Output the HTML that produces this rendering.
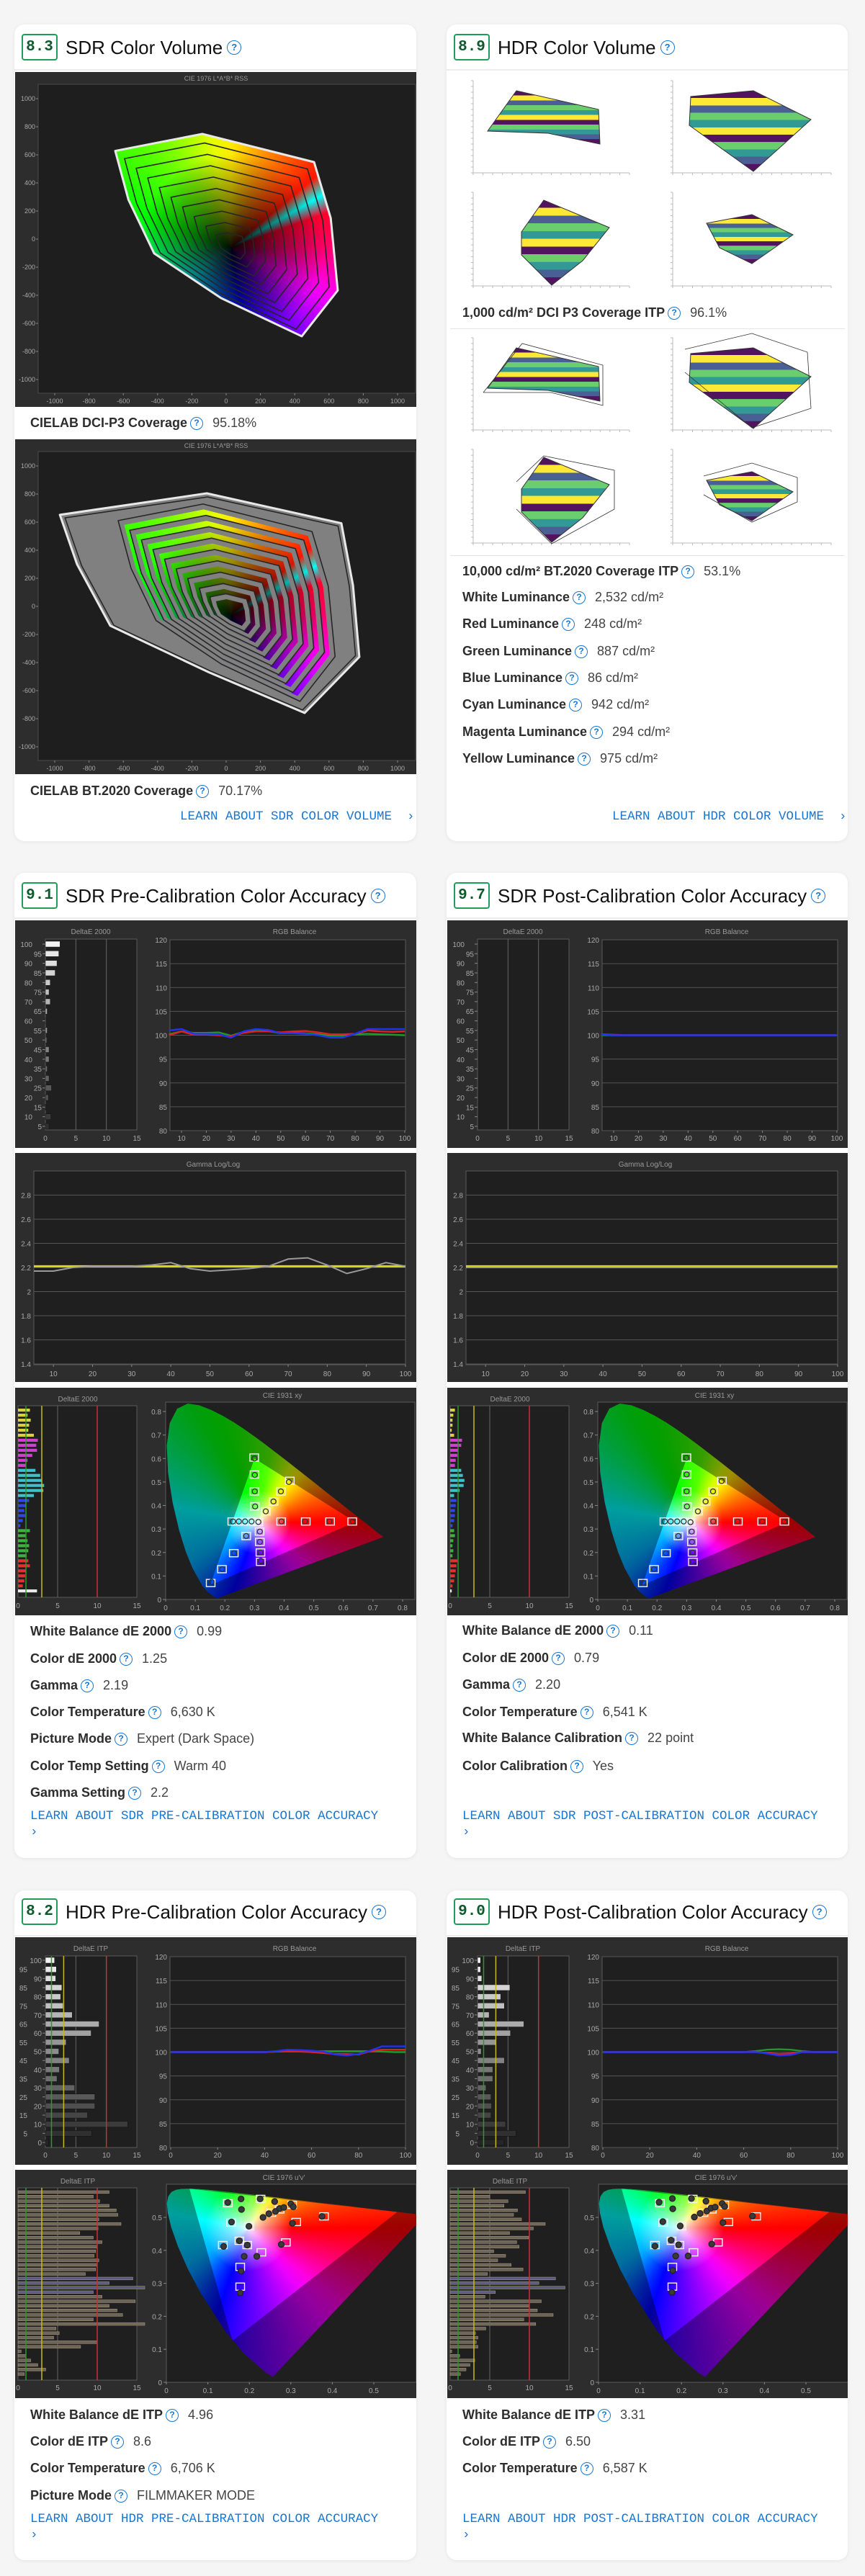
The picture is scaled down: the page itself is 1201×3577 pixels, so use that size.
<!DOCTYPE html>
<html><head><meta charset="utf-8">
<style>
*{box-sizing:border-box;margin:0;padding:0}
body{width:1201px;height:3577px;background:#f5f5f5;font-family:"Liberation Sans",sans-serif;position:relative;overflow:hidden}
.card{position:absolute;background:#fff;border-radius:14px;box-shadow:0 1px 6px rgba(0,0,0,.07)}
.hdr{position:absolute;left:0;top:0;right:0;height:64px;border-bottom:2px solid #ececec}
.badge{position:absolute;left:10px;top:13px;width:50px;height:37px;border:2px solid #1f9d55;border-radius:4px;color:#0d5a2c;font:bold 21px "Liberation Mono",monospace;text-align:center;line-height:33px}
.title{position:absolute;left:71px;top:15px;font-size:26px;color:#111;line-height:34px;white-space:nowrap}
.q{display:inline-block;width:18px;height:18px;border:1.8px solid #1877d2;border-radius:50%;color:#1877d2;font-size:12px;font-weight:bold;line-height:15px;text-align:center;vertical-align:middle;margin:0 8px 0 4px}
.title .q{width:20px;height:20px;line-height:17px;font-size:13px;margin-left:6px;position:relative;top:-2px}
.row{position:absolute;height:24px;line-height:24px;font-size:18px;color:#444;white-space:nowrap}
.row b{color:#2d2d2d}
.learn{position:absolute;font:17.5px "Liberation Mono",monospace;color:#1877d2;white-space:nowrap;line-height:22px}
svg{position:absolute;display:block}
</style></head><body>

<!-- Card 1 -->
<div class="card" style="left:20px;top:34px;width:558px;height:1134px">
 <div class="hdr"><div class="badge">8.3</div><div class="title">SDR Color Volume<span class="q">?</span></div></div>
</div>
<svg id="vol1" style="left:21px;top:100px" width="557" height="465"></svg>
<div class="row" style="left:42px;top:575px"><b>CIELAB DCI-P3 Coverage</b><span class="q">?</span> 95.18%</div>
<svg id="vol2" style="left:21px;top:610px" width="557" height="465"></svg>
<div class="row" style="left:42px;top:1086px"><b>CIELAB BT.2020 Coverage</b><span class="q">?</span> 70.17%</div>
<div class="learn" style="left:250px;top:1123px;width:302px;text-align:right">LEARN ABOUT SDR COLOR VOLUME &nbsp;›</div>

<!-- Card 2 -->
<div class="card" style="left:620px;top:34px;width:557px;height:1134px">
 <div class="hdr"><div class="badge">8.9</div><div class="title">HDR Color Volume<span class="q">?</span></div></div>
</div>
<svg id="hv1" style="left:621px;top:100px" width="556" height="313"></svg>
<div style="position:absolute;left:625px;top:456px;width:548px;height:1px;background:#e4e4e4"></div>
<div class="row" style="left:642px;top:422px"><b>1,000 cd/m² DCI P3 Coverage ITP</b><span class="q">?</span> 96.1%</div>
<svg id="hv2" style="left:621px;top:457px" width="556" height="313"></svg>
<div style="position:absolute;left:625px;top:771px;width:548px;height:1px;background:#e4e4e4"></div>
<div class="row" style="left:642px;top:781px"><b>10,000 cd/m² BT.2020 Coverage ITP</b><span class="q">?</span> 53.1%</div>
<div class="row" style="left:642px;top:817px"><b>White Luminance</b><span class="q">?</span> 2,532 cd/m²</div>
<div class="row" style="left:642px;top:854px"><b>Red Luminance</b><span class="q">?</span> 248 cd/m²</div>
<div class="row" style="left:642px;top:892px"><b>Green Luminance</b><span class="q">?</span> 887 cd/m²</div>
<div class="row" style="left:642px;top:929px"><b>Blue Luminance</b><span class="q">?</span> 86 cd/m²</div>
<div class="row" style="left:642px;top:966px"><b>Cyan Luminance</b><span class="q">?</span> 942 cd/m²</div>
<div class="row" style="left:642px;top:1004px"><b>Magenta Luminance</b><span class="q">?</span> 294 cd/m²</div>
<div class="row" style="left:642px;top:1041px"><b>Yellow Luminance</b><span class="q">?</span> 975 cd/m²</div>
<div class="learn" style="left:850px;top:1123px;width:302px;text-align:right">LEARN ABOUT HDR COLOR VOLUME &nbsp;›</div>

<!-- Card 3 -->
<div class="card" style="left:20px;top:1212px;width:558px;height:1368px">
 <div class="hdr"><div class="badge">9.1</div><div class="title">SDR Pre-Calibration Color Accuracy<span class="q">?</span></div></div>
</div>
<svg id="a1" style="left:21px;top:1278px" width="557" height="316"></svg>
<svg id="g1" style="left:21px;top:1601px" width="557" height="318"></svg>
<svg id="c1" style="left:21px;top:1927px" width="557" height="316"></svg>
<div class="row" style="left:42px;top:2253px"><b>White Balance dE 2000</b><span class="q">?</span> 0.99</div>
<div class="row" style="left:42px;top:2291px"><b>Color dE 2000</b><span class="q">?</span> 1.25</div>
<div class="row" style="left:42px;top:2328px"><b>Gamma</b><span class="q">?</span> 2.19</div>
<div class="row" style="left:42px;top:2365px"><b>Color Temperature</b><span class="q">?</span> 6,630 K</div>
<div class="row" style="left:42px;top:2402px"><b>Picture Mode</b><span class="q">?</span> Expert (Dark Space)</div>
<div class="row" style="left:42px;top:2440px"><b>Color Temp Setting</b><span class="q">?</span> Warm 40</div>
<div class="row" style="left:42px;top:2477px"><b>Gamma Setting</b><span class="q">?</span> 2.2</div>
<div class="learn" style="left:42px;top:2511px">LEARN ABOUT SDR PRE-CALIBRATION COLOR ACCURACY<br>›</div>

<!-- Card 4 -->
<div class="card" style="left:620px;top:1212px;width:557px;height:1368px">
 <div class="hdr"><div class="badge">9.7</div><div class="title">SDR Post-Calibration Color Accuracy<span class="q">?</span></div></div>
</div>
<svg id="a2" style="left:621px;top:1278px" width="556" height="316"></svg>
<svg id="g2" style="left:621px;top:1601px" width="556" height="318"></svg>
<svg id="c2" style="left:621px;top:1927px" width="556" height="316"></svg>
<div class="row" style="left:642px;top:2252px"><b>White Balance dE 2000</b><span class="q">?</span> 0.11</div>
<div class="row" style="left:642px;top:2290px"><b>Color dE 2000</b><span class="q">?</span> 0.79</div>
<div class="row" style="left:642px;top:2327px"><b>Gamma</b><span class="q">?</span> 2.20</div>
<div class="row" style="left:642px;top:2365px"><b>Color Temperature</b><span class="q">?</span> 6,541 K</div>
<div class="row" style="left:642px;top:2401px"><b>White Balance Calibration</b><span class="q">?</span> 22 point</div>
<div class="row" style="left:642px;top:2440px"><b>Color Calibration</b><span class="q">?</span> Yes</div>
<div class="learn" style="left:642px;top:2511px">LEARN ABOUT SDR POST-CALIBRATION COLOR ACCURACY<br>›</div>

<!-- Card 5 -->
<div class="card" style="left:20px;top:2625px;width:558px;height:930px">
 <div class="hdr"><div class="badge" style="top:11px">8.2</div><div class="title" style="top:13px">HDR Pre-Calibration Color Accuracy<span class="q">?</span></div></div>
</div>
<svg id="a3" style="left:21px;top:2690px" width="557" height="316"></svg>
<svg id="c3" style="left:21px;top:3013px" width="557" height="317"></svg>
<div class="row" style="left:42px;top:3341px"><b>White Balance dE ITP</b><span class="q">?</span> 4.96</div>
<div class="row" style="left:42px;top:3378px"><b>Color dE ITP</b><span class="q">?</span> 8.6</div>
<div class="row" style="left:42px;top:3415px"><b>Color Temperature</b><span class="q">?</span> 6,706 K</div>
<div class="row" style="left:42px;top:3453px"><b>Picture Mode</b><span class="q">?</span> FILMMAKER MODE</div>
<div class="learn" style="left:42px;top:3487px">LEARN ABOUT HDR PRE-CALIBRATION COLOR ACCURACY<br>›</div>

<!-- Card 6 -->
<div class="card" style="left:620px;top:2625px;width:557px;height:930px">
 <div class="hdr"><div class="badge" style="top:11px">9.0</div><div class="title" style="top:13px">HDR Post-Calibration Color Accuracy<span class="q">?</span></div></div>
</div>
<svg id="a4" style="left:621px;top:2690px" width="556" height="316"></svg>
<svg id="c4" style="left:621px;top:3013px" width="556" height="317"></svg>
<div class="row" style="left:642px;top:3341px"><b>White Balance dE ITP</b><span class="q">?</span> 3.31</div>
<div class="row" style="left:642px;top:3378px"><b>Color dE ITP</b><span class="q">?</span> 6.50</div>
<div class="row" style="left:642px;top:3415px"><b>Color Temperature</b><span class="q">?</span> 6,587 K</div>
<div class="learn" style="left:642px;top:3487px">LEARN ABOUT HDR POST-CALIBRATION COLOR ACCURACY<br>›</div>

<script>
// ---------- DATA ----------
const volTicks = [-1000,-800,-600,-400,-200,0,200,400,600,800,1000];
const p3A = [-647,-139,513,610,651,441,-30,-420,-570];
const p3B = [628,749,548,150,-365,-692,-420,-102,280];
const bt2020A = [-970,-113,672,740,777,458,-100,-676,-870];
const bt2020B = [652,805,592,150,-360,-759,-470,-138,300];
const ringScales = [1,0.92,0.82,0.72,0.62,0.52,0.42,0.32,0.22,0.13];
const volCenterA = 30, volCenterB = -60;

const sdrDeRows = [100,95,90,85,80,75,70,65,60,55,50,45,40,35,30,25,20,15,10,5];
const sdrPreDe = [2.4,2.2,1.9,1.6,0.8,0.6,0.8,0.3,0.1,0.3,0.2,0.6,0.6,0.3,0.6,1.0,0.5,0.1,0.9,0.6];
const sdrPostDe = [0,0,0,0,0,0,0,0,0,0,0,0,0,0,0,0,0,0,0,0];
const sdrRgbX = [5,10,15,20,25,30,35,40,45,50,55,60,65,70,75,80,85,90,95,100];
const sdrRgbTicks = [10,20,30,40,50,60,70,80,90,100];
const sdrPreR = [100,100.8,100.1,100.1,100,99.8,100.5,100.8,100.8,100.6,100.8,100.9,100.6,100.2,100.2,100.3,101,100.8,100.7,100.8];
const sdrPreG = [100.2,100.8,100.5,100.5,100.6,99.9,100.7,100.9,100.9,100.4,100.5,100.4,100.2,99.9,99.9,100.2,100.3,100.2,100.1,100];
const sdrPreB = [101,101.3,100.3,100.3,100.2,99.5,100.8,101.3,101.1,100.4,100.4,100.3,100,99.5,99.5,100.3,101.3,101.3,101.3,101.3];
const sdrPostR = [100.2,100.1,100,100,100,100,100,100,100,100,100,100,100,100,100,100,100,100,100,100];
const sdrPostG = [100,100,100,100,100,100,100,100,100,100,100,100,100,100,100,100,100,100,100,100];
const sdrPostB = [100.1,100,100,100,100,100,100,100,100,100,100,100,100,100,100,100,100,100,100,100];

const gammaX = [5,10,15,20,25,30,35,40,45,50,55,60,65,70,75,80,85,90,95,100];
const gammaTicks = [10,20,30,40,50,60,70,80,90,100];
const gammaYTicks = [1.4,1.6,1.8,2,2.2,2.4,2.6,2.8];
const gammaPre = [2.17,2.17,2.2,2.21,2.21,2.21,2.22,2.24,2.19,2.17,2.18,2.19,2.21,2.27,2.28,2.22,2.15,2.19,2.24,2.21];
const gammaPreTarget = [2.21,2.21,2.21,2.21,2.21,2.21,2.21,2.21,2.21,2.21,2.21,2.21,2.21,2.21,2.21,2.21,2.21,2.21,2.21,2.21];
const gammaPost = [2.2,2.2,2.2,2.2,2.2,2.2,2.2,2.2,2.2,2.2,2.2,2.2,2.2,2.2,2.2,2.2,2.2,2.2,2.2,2.2];
const gammaPostTarget = [2.21,2.21,2.21,2.21,2.21,2.21,2.21,2.21,2.21,2.21,2.21,2.21,2.21,2.21,2.21,2.21,2.21,2.21,2.21,2.21];

const hdrDeRows = [100,95,90,85,80,75,70,65,60,55,50,45,40,35,30,25,20,15,10,5,0];
const hdrPreDe = [1.5,1.8,1.7,2.7,2.5,2.9,4.4,8.8,7.5,3.4,2.2,3.9,2.3,1.9,4.8,8.1,8.1,6.9,13.5,7.6,0.5];
const hdrPostDe = [0.5,0.5,0.7,5.3,3.8,4.4,1.9,7.6,5.4,3.1,0.6,4.4,2.5,2.5,1.4,2.2,2.3,2.2,4.6,6.3,4.3];
const hdrRgbX = [0,5,10,15,20,25,30,35,40,45,50,55,60,65,70,75,80,85,90,95,100];
const hdrRgbTicks = [0,20,40,60,80,100];
const hdrPreR = [100,100,100,100,100,100,100,100,100,100.1,100.2,100.1,100,99.8,99.6,99.6,99.5,100.2,100.5,100.5,100.5];
const hdrPreG = [100,100,100,100,100,100,100,100,100,100.1,100.2,100.2,100.2,100.2,100.2,100.2,100.2,100.2,100.1,100,100];
const hdrPreB = [100,100,100,100,100,100,100,100,100,100.2,100.5,100.4,100.3,100.1,99.5,99.3,99.6,100.3,101.2,101.2,101.2];
const hdrPostR = [100,100,100,100,100,100,100,100,100,100,100,100,100,100,99.8,99.6,99.7,100,100,100,100];
const hdrPostG = [100,100,100,100,100,100,100,100,100,100,100,100,100,100.2,100.5,100.6,100.5,100.2,100,100,100];
const hdrPostB = [100,100,100,100,100,100,100,100,100,100,100,100,100,100,99.7,99.3,99.4,100,100,100,100];

const cieDeTicks = [0,5,10,15];
const sdrPreCieDe = [1.5,1.2,1.6,1.4,1.3,2.0, 2.5,2.3,2.4,1.8,1.2,1.0, 2.2,2.8,3.0,3.3,3.2,2.0, 1.4,1.0,0.8,0.9,0.6,0.3, 1.5,1.0,1.2,1.4,1.3,1.1, 1.3,1.5,1.0,0.9,0.8,0.6, 2.4];
const sdrPostCieDe = [0.6,0.4,0.3,0.3,0.2,0.5, 1.5,1.4,1.0,0.9,0.7,0.6, 1.4,1.6,1.8,1.7,1.2,0.5, 0.8,0.7,0.6,0.6,0.5,0.3, 0.5,0.6,0.4,0.3,0.4,0.3, 0.9,0.8,0.7,0.6,0.5,0.3, 0.2];
const hdrPreCieDe = [11.5,9.5,10.3,11.5,12.4,12.6,10.2,13,10.1,7.8,9.5,10.6,10,9.8,9.6,10.2,10,9.8,8.5,14.5,11.5,16,9.5,10.6,14.8,11.5,12.5,13.2,9.5,16,4.8,5.2,4.5,10,7.9,0.4,1,1.6,2.5,3.5,0.8];
const hdrPostCieDe = [9.5,5,7.3,6.8,8.5,8,9,12,10.5,7.5,9.9,8.4,8.7,5.5,7,6,7.7,9.2,4.7,13.3,11.2,14.5,5.7,4.4,11.5,10,11,13,9.3,10.8,4.5,3.2,3.5,3.3,3.5,0.2,1.2,3.1,2.5,2,1.3];

const locusX = [0.1741,0.1666,0.1440,0.1241,0.0913,0.0687,0.0454,0.0235,0.0082,0.0039,0.0139,0.0389,0.0743,0.1142,0.1547,0.1929,0.2296,0.2658,0.3016,0.3373,0.3731,0.4087,0.4441,0.4788,0.5125,0.5448,0.5752,0.6029,0.6270,0.6482,0.6658,0.6915,0.7347];
const locusY = [0.0050,0.0089,0.0297,0.0578,0.1327,0.2007,0.2950,0.4127,0.5384,0.6548,0.7502,0.8120,0.8338,0.8262,0.8059,0.7816,0.7543,0.7243,0.6923,0.6589,0.6245,0.5896,0.5547,0.5202,0.4866,0.4544,0.4242,0.3965,0.3725,0.3514,0.3340,0.3083,0.2653];
const rec709X = [0.64,0.30,0.15], rec709Y = [0.33,0.60,0.06];
const bt2020U = [0.5566,0.0556,0.1593], bt2020V = [0.5165,0.5868,0.1258];
const xyTicksX = [0,0.1,0.2,0.3,0.4,0.5,0.6,0.7,0.8];
const xyTicksY = [0,0.1,0.2,0.3,0.4,0.5,0.6,0.7,0.8];
const uvTicksX = [0,0.1,0.2,0.3,0.4,0.5];
const uvTicksY = [0,0.1,0.2,0.3,0.4,0.5];
const sdrTargetX = [0.299,0.300,0.300,0.301,0.419,0.389,0.364,0.338,0.390,0.473,0.555,0.630,0.225,0.246,0.268,0.290,0.313,0.317,0.318,0.320,0.321,0.272,0.230,0.190,0.152];
const sdrTargetY = [0.604,0.532,0.460,0.396,0.505,0.460,0.417,0.375,0.332,0.332,0.332,0.332,0.332,0.332,0.332,0.332,0.329,0.289,0.245,0.200,0.160,0.270,0.197,0.129,0.070];
const sdrPreMeasX = [0.300,0.301,0.301,0.302,0.416,0.389,0.364,0.338,0.391,0.470,0.553,0.632,0.227,0.247,0.268,0.290,0.313,0.318,0.318,0.320,0.321,0.272,0.231,0.191,0.155];
const sdrPreMeasY = [0.600,0.530,0.460,0.396,0.500,0.460,0.417,0.375,0.332,0.332,0.332,0.332,0.332,0.332,0.332,0.332,0.330,0.289,0.245,0.200,0.165,0.270,0.197,0.129,0.075];
const sdrPostMeasX = [0.299,0.300,0.300,0.301,0.418,0.389,0.364,0.338,0.390,0.472,0.555,0.630,0.226,0.246,0.268,0.290,0.313,0.317,0.318,0.320,0.321,0.272,0.230,0.190,0.153];
const sdrPostMeasY = [0.603,0.532,0.460,0.396,0.504,0.460,0.417,0.375,0.332,0.332,0.332,0.332,0.332,0.332,0.332,0.332,0.329,0.289,0.245,0.200,0.161,0.270,0.197,0.129,0.071];
const hdrTargetU = [0.148,0.227,0.303,0.156,0.200,0.313,0.380,0.136,0.176,0.195,0.288,0.229,0.178,0.178,0.253,0.273];
const hdrTargetV = [0.543,0.556,0.538,0.484,0.473,0.486,0.503,0.416,0.429,0.416,0.424,0.394,0.350,0.290,0.514,0.524];
const hdrPreMeasU = [0.148,0.180,0.181,0.157,0.199,0.176,0.195,0.138,0.1875,0.218,0.180,0.178,0.226,0.261,0.233,0.247,0.263,0.273,0.283,0.300,0.306,0.304,0.277,0.375];
const hdrPreMeasV = [0.545,0.556,0.524,0.486,0.473,0.429,0.416,0.412,0.382,0.382,0.337,0.271,0.556,0.548,0.500,0.511,0.518,0.527,0.530,0.541,0.532,0.482,0.418,0.503];
const hdrPostMeasU = [0.146,0.178,0.179,0.155,0.197,0.175,0.193,0.136,0.186,0.216,0.179,0.177,0.224,0.259,0.231,0.245,0.261,0.271,0.281,0.298,0.304,0.300,0.273,0.371];
const hdrPostMeasV = [0.546,0.557,0.526,0.487,0.474,0.431,0.417,0.413,0.383,0.383,0.339,0.273,0.557,0.549,0.501,0.512,0.519,0.528,0.531,0.542,0.533,0.484,0.419,0.504];

// ---------- HELPERS ----------
const NS='http://www.w3.org/2000/svg';
function E(p,t,a,txt){const e=document.createElementNS(NS,t);for(const k in a)e.setAttribute(k,a[k]);if(txt!==undefined)e.textContent=txt;p.appendChild(e);return e;}
function T(p,x,y,s,anchor,size,fill){return E(p,'text',{x:x,y:y,'text-anchor':anchor||'middle','font-size':size||10,fill:fill||'#a9a9a9','font-family':'Liberation Sans, sans-serif'},s);}
function interp(tbl,a){a=((a%360)+360)%360;for(let i=0;i<tbl.length-1;i++){const p=tbl[i],q=tbl[i+1];if(a>=p[0]&&a<=q[0]){const t=(a-p[0])/(q[0]-p[0]);return p[1]+t*(q[1]-p[1]);}}return tbl[0][1];}
// gradient fill clipped to polygon (CSS conic-gradient in foreignObject)
function hueFill(svg,W,H,cx,cy,pts,tbl,overlay){
  const fo=E(svg,'foreignObject',{x:0,y:0,width:W,height:H});
  const d=document.createElement('div');
  const stops=[];
  for(let th=0;th<=360;th+=10){stops.push('hsl('+interp(tbl,90-th).toFixed(1)+',100%,50%) '+th+'deg');}
  d.style.cssText='width:'+W+'px;height:'+H+'px;background:'+overlay+',conic-gradient(from 0deg at '+cx+'px '+cy+'px,'+stops.join(',')+');clip-path:polygon('+pts.map(p=>p[0].toFixed(1)+'px '+p[1].toFixed(1)+'px').join(',')+')';
  fo.appendChild(d);
  return fo;
}
const labHue=[[0,335],[20,350],[40,5],[65,28],[90,55],[125,95],[160,120],[190,150],[215,180],[245,205],[275,235],[305,265],[330,295],[360,335]];
const cieHue=[[0,0],[25,25],[50,55],[80,100],[120,125],[170,180],[215,200],[240,230],[275,265],[315,300],[360,360]];

// ---------- VOLUME CHARTS ----------
function buildVolume(id,withBt){
  const svg=document.getElementById(id),W=557,H=465;
  const X=a=>293+a*47.6/200, Y=b=>232-b*39/200;
  const bg=E(svg,'rect',{x:0,y:0,width:W,height:H,fill:'#2d2d2d'});
  
  const pl=E(svg,'rect',{x:32,y:17,width:524,height:429,fill:'#1e1e1e',stroke:'#4a4a4a'});
  
  const tt=T(svg,279,12,'CIE 1976 L*A*B* RSS','middle',9,'#999');
  
  volTicks.forEach(v=>{
    const ty=T(svg,28,Y(v)+3,String(v),'end',9);
    
    const tx=T(svg,X(v),460,String(v),'middle',9);
    
    const m1=E(svg,'line',{x1:29,x2:32,y1:Y(v),y2:Y(v),stroke:'#888'});
    
    const m2=E(svg,'line',{x1:X(v),x2:X(v),y1:446,y2:449,stroke:'#888'});
    
  });
  const cx=X(volCenterA),cy=Y(volCenterB);
  const ringPts=(A,B,s)=>A.map((a,i)=>[X(volCenterA+s*(a-volCenterA)),Y(volCenterB+s*(B[i]-volCenterB))]);
  const ring=(A,B,s)=>ringPts(A,B,s).map(p=>p.join(',')).join(' ');
  const overlay='radial-gradient(circle at '+cx+'px '+cy+'px, rgba(0,0,0,0.95) 0px, rgba(0,0,0,0.6) 45px, rgba(0,0,0,0) 130px)';
  if(!withBt){
    const f=hueFill(svg,W,H,cx,cy,ringPts(p3A,p3B,1),labHue,overlay);
    
    const o=E(svg,'polygon',{points:ring(p3A,p3B,1),fill:'none',stroke:'#e8e8e8','stroke-width':3,'stroke-linejoin':'round'});
    
    ringScales.slice(1).forEach(s=>{
      const r=E(svg,'polygon',{points:ring(p3A,p3B,s),fill:'none',stroke:'#262626','stroke-width':1.6,'stroke-linejoin':'round'});
      
    });
  } else {
    const g=E(svg,'polygon',{points:ring(bt2020A,bt2020B,1),fill:'#808080',stroke:'#e8e8e8','stroke-width':3,'stroke-linejoin':'round'});
    
    const f=hueFill(svg,W,H,cx,cy,ringPts(p3A,p3B,0.96),labHue,overlay);
    
    ringScales.slice(1).forEach(s=>{
      const band=E(svg,'polygon',{points:ring(p3A,p3B,s+0.03),fill:'none',stroke:'#808080','stroke-width':7,'stroke-linejoin':'round'});
      
      const r=E(svg,'polygon',{points:ring(p3A,p3B,s+0.055),fill:'none',stroke:'#262626','stroke-width':1.6,'stroke-linejoin':'round'});
      
    });
    const ob=E(svg,'polygon',{points:ring(bt2020A,bt2020B,0.97),fill:'none',stroke:'#262626','stroke-width':1.6,'stroke-linejoin':'round'});
    
  }
}
buildVolume('vol1',false);
buildVolume('vol2',true);

// ---------- HDR VOLUME RENDERS (illustrations) ----------
function hdrRenders(id,wire){
  const svg=document.getElementById(id);
  const defs=E(svg,'defs',{});
  const gr=E(defs,'linearGradient',{id:id+'v',x1:0,y1:0,x2:0,y2:1});
  const cols=['#440154','#fde725','#3b528b','#5ec962','#21918c','#fde725','#440154','#5ec962','#21918c','#3b528b','#440154'];
  cols.forEach((c,i)=>{E(gr,'stop',{offset:i/cols.length,'stop-color':c});E(gr,'stop',{offset:(i+1)/cols.length-0.001,'stop-color':c});});
  const bg=E(svg,'rect',{x:0,y:0,width:556,height:313,fill:'#fff'});
  
  const panels=[[36,12,217,128],[313,12,220,128],[36,167,217,130],[313,167,220,130]];
  panels.forEach((p,k)=>{
    const ax=E(svg,'polyline',{points:p[0]+','+p[1]+' '+p[0]+','+(p[1]+p[3])+' '+(p[0]+p[2])+','+(p[1]+p[3]),fill:'none',stroke:'#bbb','stroke-width':1});
    
    for(let i=0;i<=16;i++){
      const t=E(svg,'line',{x1:p[0]-3,x2:p[0],y1:p[1]+i*p[3]/16,y2:p[1]+i*p[3]/16,stroke:'#bbb'});
      
      const t2=E(svg,'line',{x1:p[0]+i*p[2]/16,x2:p[0]+i*p[2]/16,y1:p[1]+p[3],y2:p[1]+p[3]+3,stroke:'#bbb'});
      
    }
  });
  const shapes=[
    '56,82 96,26 210,52 212,100 140,85',
    '338,34 425,26 505,66 425,138 336,74',
    '103,222 134,178 225,216 188,262 145,296 103,254',
    '360,210 423,198 480,226 423,266 378,244'];
  shapes.forEach(s=>{
    const sh=E(svg,'polygon',{points:s,fill:'url(#'+id+'v)',stroke:'#222','stroke-width':1,opacity:0.92});
    
  });
  if(wire){
    const w=['50,88 104,20 216,50 216,106 144,88 50,88','330,28 423,6 500,32 505,110 423,137 330,60','96,212 134,176 232,196 232,250 145,298 96,250','356,204 423,186 486,206 486,240 423,268 356,230'];
    w.forEach(s=>{
      const wl=E(svg,'polyline',{points:s,fill:'none',stroke:'#333','stroke-width':0.8});
      
    });
  }
}
hdrRenders('hv1',false);
hdrRenders('hv2',true);

// ---------- CHART A: DeltaE + RGB balance ----------
function buildA(id,o){
  const svg=document.getElementById(id),W=557,H=316;
  const bg=E(svg,'rect',{x:0,y:0,width:W,height:H,fill:'#2d2d2d'});
  
  const dx=v=>42+v*8.47, top=26, bot=o.hdr?292:291;
  const dp=E(svg,'rect',{x:42,y:top,width:127,height:bot-top,fill:'#1f1f1f',stroke:'#5a5a5a'});
  
  [5,10].forEach(v=>{const l=E(svg,'line',{x1:dx(v),x2:dx(v),y1:top,y2:bot,stroke:'#666'});});
  const t1=T(svg,105,19,o.deTitle,'middle',10,'#999');
  
  const n=o.rows.length, r0=o.hdr?32:33, r1=o.hdr?285:286, st=(r1-r0)/(n-1);
  o.rows.forEach((rv,i)=>{
    const y=r0+i*st;
    const right=o.hdr?((rv%10===0)?37:17):((rv%10===0)?24:37);
    const lb=T(svg,right,y+4,String(rv),'end',10);
    
    const tk=E(svg,'line',{x1:38,x2:42,y1:y,y2:y,stroke:'#888'});
    
    const v=o.de[i];
    const l=Math.round(15+rv*0.8);
    const b=E(svg,'rect',{x:42,y:y-4,width:Math.max(0,dx(v)-42),height:8,fill:'hsl(0,0%,'+l+'%)',stroke:'#111','stroke-width':0.5});
    
  });
  if(o.hdr){
    [[1,'#2a9a2a'],[3,'#c8b820'],[10,'#c8302a']].forEach(q=>{const l=E(svg,'line',{x1:dx(q[0]),x2:dx(q[0]),y1:top,y2:bot,stroke:q[1],'stroke-width':1.5});});
  }
  cieDeTicks.forEach(v=>{const t=T(svg,dx(v),306,String(v),'middle',10);});
  const xs=v=>o.hdr?(216+v*3.26):(231+(v-10)*3.444);
  const ys=v=>27+(120-v)*(292-27)/40;
  const rp=E(svg,'rect',{x:215,y:27,width:327,height:265,fill:'#1f1f1f',stroke:'#5a5a5a'});
  
  const t2=T(svg,388,19,'RGB Balance','middle',10,'#999');
  
  for(let v=80;v<=120;v+=5){
    const g=E(svg,'line',{x1:215,x2:542,y1:ys(v),y2:ys(v),stroke:'#555'});
    
    const l=T(svg,211,ys(v)+4,String(v),'end',10);
    
  }
  o.ticks.forEach(v=>{
    const l=T(svg,xs(v),306,String(v),'middle',10);
    
    const m=E(svg,'line',{x1:xs(v),x2:xs(v),y1:292,y2:295,stroke:'#888'});
    
  });
  [[o.G,'#1f9a2a'],[o.R,'#e02020'],[o.B,'#2233ee']].forEach(s=>{
    const pl=E(svg,'polyline',{points:o.x.map((v,i)=>xs(v)+','+ys(s[0][i])).join(' '),fill:'none',stroke:s[1],'stroke-width':2.4,'stroke-linejoin':'round'});
    
  });
}
buildA('a1',{hdr:false,deTitle:'DeltaE 2000',rows:sdrDeRows,de:sdrPreDe,x:sdrRgbX,ticks:sdrRgbTicks,R:sdrPreR,G:sdrPreG,B:sdrPreB});
buildA('a2',{hdr:false,deTitle:'DeltaE 2000',rows:sdrDeRows,de:sdrPostDe,x:sdrRgbX,ticks:sdrRgbTicks,R:sdrPostR,G:sdrPostG,B:sdrPostB});
buildA('a3',{hdr:true,deTitle:'DeltaE ITP',rows:hdrDeRows,de:hdrPreDe,x:hdrRgbX,ticks:hdrRgbTicks,R:hdrPreR,G:hdrPreG,B:hdrPreB});
buildA('a4',{hdr:true,deTitle:'DeltaE ITP',rows:hdrDeRows,de:hdrPostDe,x:hdrRgbX,ticks:hdrRgbTicks,R:hdrPostR,G:hdrPostG,B:hdrPostB});

// ---------- GAMMA ----------
function buildGamma(id,meas,target){
  const svg=document.getElementById(id),W=557,H=318;
  const xs=v=>26+(v-5)*516/95, ys=g=>159-(g-2.2)/0.2*33.5;
  const bg=E(svg,'rect',{x:0,y:0,width:W,height:H,fill:'#2d2d2d'});
  
  const p=E(svg,'rect',{x:26,y:25,width:516,height:269,fill:'#1f1f1f',stroke:'#5a5a5a'});
  
  const t=T(svg,275,19,'Gamma Log/Log','middle',10,'#999');
  
  gammaYTicks.forEach(g=>{
    const l=E(svg,'line',{x1:26,x2:542,y1:ys(g),y2:ys(g),stroke:'#555'});
    
    const tx=T(svg,22,ys(g)+4,String(g),'end',10);
    
  });
  gammaTicks.forEach(v=>{
    const tx=T(svg,xs(v),310,String(v),'middle',10);
    
    const m=E(svg,'line',{x1:xs(v),x2:xs(v),y1:294,y2:297,stroke:'#888'});
    
  });
  const y=E(svg,'polyline',{points:gammaX.map((v,i)=>xs(v)+','+ys(target[i])).join(' '),fill:'none',stroke:'#d8d820','stroke-width':3});
  
  const m=E(svg,'polyline',{points:gammaX.map((v,i)=>xs(v)+','+ys(meas[i])).join(' '),fill:'none',stroke:'#9a9a9a','stroke-width':2});
  
}
buildGamma('g1',gammaPre,gammaPreTarget);
buildGamma('g2',gammaPost,gammaPostTarget);

// ---------- CIE ----------
function buildCie(id,o){
  const svg=document.getElementById(id),W=557,H=317;
  const bg=E(svg,'rect',{x:0,y:0,width:W,height:H,fill:'#2d2d2d'});
  
  const dx=v=>4+v*11, top=25, bot=o.uv?292:291;
  const dp=E(svg,'rect',{x:4,y:top,width:165,height:bot-top,fill:'#1f1f1f',stroke:'#5a5a5a'});
  
  [5,10].forEach(v=>{const l=E(svg,'line',{x1:dx(v),x2:dx(v),y1:top,y2:bot,stroke:'#666'});});
  const t1=T(svg,87,19,o.deTitle,'middle',10,'#999');
  
  const groupCols=['#d8d040','#d040d0','#40c0c8','#3048e0','#40b040','#e03030','#e8e8e8'];
  const n=o.de.length, st=(bot-top-8)/n;
  o.de.forEach((v,i)=>{
    const y=top+4+i*st;
    const col=o.uv?(i>=19&&i<=22?'#5a5a8a':'#6c6458'):groupCols[Math.min(6,Math.floor(i/6))];
    const b=E(svg,'rect',{x:4,y:y,width:Math.max(0,dx(v)-4),height:Math.max(2,st*0.6),fill:col,stroke:o.uv?'#b0a080':'none','stroke-width':0.5});
    
  });
  [[1,'#2a9a2a'],[3,'#c8b820'],[10,'#c8302a']].forEach(q=>{const l=E(svg,'line',{x1:dx(q[0]),x2:dx(q[0]),y1:top,y2:bot,stroke:q[1],'stroke-width':1.5});});
  cieDeTicks.forEach(v=>{const t=T(svg,dx(v),306,String(v),'middle',10);});
  let X,Y,locus,tri,ticksX,ticksY,right,wx,wy;
  if(!o.uv){
    X=x=>209+x*411.25; Y=y=>294-y*326.25;
    locus=locusX.map((x,i)=>[x,locusY[i]]); tri=rec709X.map((x,i)=>[x,rec709Y[i]]);
    ticksX=xyTicksX; ticksY=xyTicksY; right=555; wx=0.3127; wy=0.329;
  } else {
    X=u=>210+u*576; Y=v=>295-v*458;
    locus=locusX.map((x,i)=>{const d=-2*x+12*locusY[i]+3;return [4*x/d,9*locusY[i]/d];});
    tri=bt2020U.map((u,i)=>[u,bt2020V[i]]);
    ticksX=uvTicksX; ticksY=uvTicksY; right=557; wx=0.1978; wy=0.4683;
  }
  const y0=o.uv?295:294;
  const pr=E(svg,'rect',{x:X(0),y:20,width:right-X(0),height:y0-20,fill:'#1f1f1f',stroke:'#5a5a5a'});
  
  const tt=T(svg,o.uv?373:371,14,o.title,'middle',10,'#999');
  
  const defs=E(svg,'defs',{});
  const cp=E(defs,'clipPath',{id:id+'c'});
  E(cp,'rect',{x:X(0),y:20,width:right-X(0),height:y0-20});
  const g=E(svg,'g',{'clip-path':'url(#'+id+'c)'});
  
  const cx=X(wx),cy=Y(wy),rr=o.uv?60:45;
  const ov='radial-gradient(circle at '+cx+'px '+cy+'px, rgba(255,255,255,0.9) 0px, rgba(255,255,255,0.5) '+(rr*0.4)+'px, rgba(255,255,255,0) '+rr+'px)';
  const hs=hueFill(g,W,H,cx,cy,locus.map(p=>[X(p[0]),Y(p[1])]),cieHue,ov);
  
  const dpath='M'+locus.map(p=>X(p[0])+' '+Y(p[1])).join(' L')+' Z M'+tri.map(p=>X(p[0])+' '+Y(p[1])).join(' L')+' Z';
  const sh=E(g,'path',{d:dpath,fill:'#000','fill-opacity':0.38,'fill-rule':'evenodd'});
  
  ticksY.forEach(v=>{
    const l=T(svg,X(0)-6,Y(v)+4,String(v),'end',10);
    
    const m=E(svg,'line',{x1:X(0)-4,x2:X(0),y1:Y(v),y2:Y(v),stroke:'#888'});
    
  });
  ticksX.forEach(v=>{
    const l=T(svg,X(v),y0+15,String(v),'middle',10);
    
    const m=E(svg,'line',{x1:X(v),x2:X(v),y1:y0,y2:y0+3,stroke:'#888'});
    
  });
  o.tx.forEach((v,i)=>{
    const s=E(g,'rect',{x:X(v)-6,y:Y(o.ty[i])-5,width:12,height:10,fill:'none',stroke:'#f4f4f4','stroke-width':1.4});
    
  });
  o.mx.forEach((v,i)=>{
    const c=E(g,'circle',{cx:X(v),cy:Y(o.my[i]),r:o.uv?4:3.5,fill:o.uv?'#3a3a3a':'none',stroke:o.uv?'#222':'#333','stroke-width':1.3});
    
  });
}
buildCie('c1',{uv:false,deTitle:'DeltaE 2000',title:'CIE 1931 xy',de:sdrPreCieDe,tx:sdrTargetX,ty:sdrTargetY,mx:sdrPreMeasX,my:sdrPreMeasY});
buildCie('c2',{uv:false,deTitle:'DeltaE 2000',title:'CIE 1931 xy',de:sdrPostCieDe,tx:sdrTargetX,ty:sdrTargetY,mx:sdrPostMeasX,my:sdrPostMeasY});
buildCie('c3',{uv:true,deTitle:'DeltaE ITP',title:"CIE 1976 u'v'",de:hdrPreCieDe,tx:hdrTargetU,ty:hdrTargetV,mx:hdrPreMeasU,my:hdrPreMeasV});
buildCie('c4',{uv:true,deTitle:'DeltaE ITP',title:"CIE 1976 u'v'",de:hdrPostCieDe,tx:hdrTargetU,ty:hdrTargetV,mx:hdrPostMeasU,my:hdrPostMeasV});
</script>
</body></html>
